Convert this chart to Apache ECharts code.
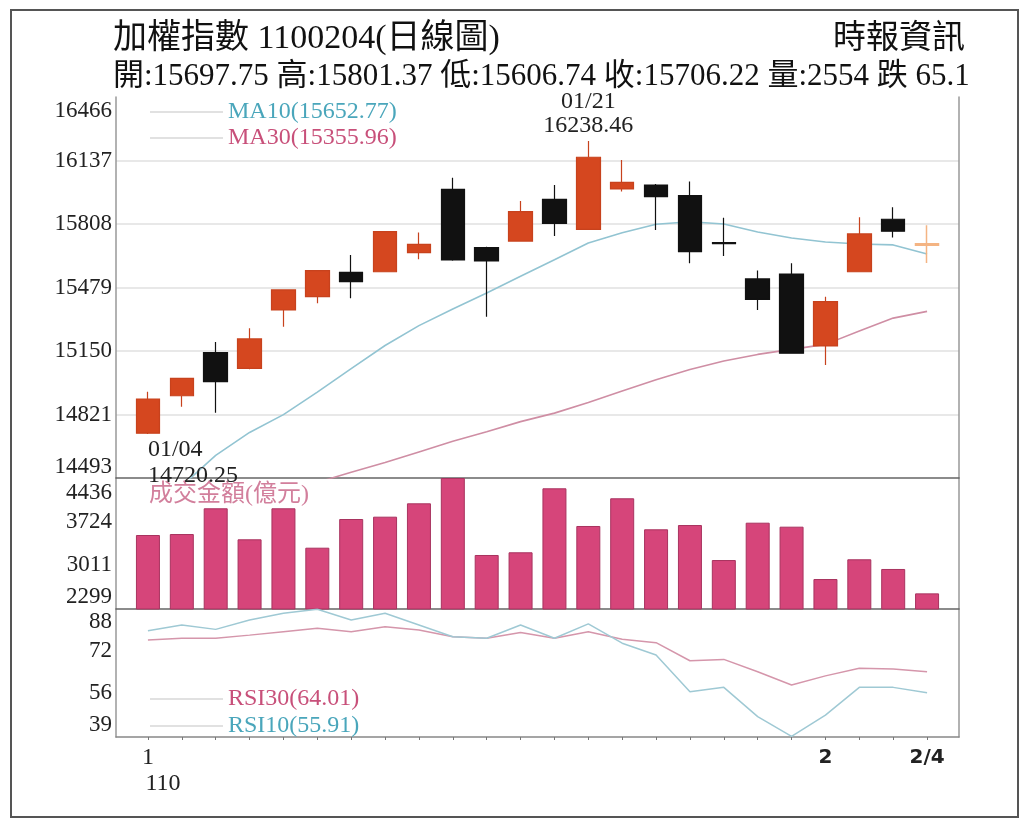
<!DOCTYPE html>
<html><head><meta charset="utf-8">
<script src="https://cdn.jsdelivr.net/npm/echarts@6/dist/echarts.min.js"></script>
<style>html,body{margin:0;padding:0;background:#fff}#c{width:1024px;height:826px}</style>
</head><body><div id="c"></div>
<script>
const dates = ['01/04','01/05','01/06','01/07','01/08','01/11','01/12','01/13','01/14','01/15','01/18','01/19','01/20','01/21','01/22','01/25','01/26','01/27','01/28','01/29','02/01','02/02','02/03','02/04'];
const opens  = [14725,14919,15142,15061,15363,15432,15558,15561,15660,15988,15686,15720,15936,15781,15990,16010,15955,15712,15524,15549,15177,15561,15833,15697.75];
const closes = [14902,15009,14992,15213,15467,15567,15510,15769,15703,15622,15617,15872,15812,16154,16024,15950,15665,15706,15418,15139,15406,15757,15771.32,15706.22];
const lows   = [14720.25,14862,14831,15056,15276,15398,15424,15558,15626,15618,15328,15716,15746,15778,15976,15777,15605,15643,15363,15136,15078,15558,15739,15606.74];
const highs  = [14940,15012,15197,15268,15470,15570,15648,15772,15764,16048,15690,15927,16010,16238.46,16140,16015,16028,15841,15567,15605,15432,15843,15895,15801.37];
const ma10 = [14330,14452,14610,14729,14821,14938,15059,15179,15282,15368,15451,15538,15623,15710,15763,15807,15820,15808,15767,15736,15715,15705,15700,15652.77];
const ma30 = [14208,14260,14312,14364,14415,14470,14523,14573,14628,14683,14733,14785,14829,14884,14944,15002,15055,15099,15133,15159,15185,15254,15321,15355.96];
const volumes = [3506,3522,3942,3436,3942,3299,3767,3805,4023,4436,3180,3224,4268,3653,4105,3599,3669,3098,3707,3642,2788,3110,2952,2554];
const rsi10 = [79.7,81.9,80.2,83.8,86.4,87.9,83.8,86.4,81.9,77.4,76.8,81.9,76.8,82.3,74.9,70.4,56.3,58.0,46.8,39.2,47.4,58.0,58.0,55.91];
const rsi30 = [76.1,76.8,76.8,78.0,79.3,80.6,79.3,81.2,80.0,77.4,76.8,79.0,76.8,79.3,76.4,75.1,68.2,68.7,64.0,58.9,62.4,65.3,65.0,64.01];
const priceTicks = [14493,14821,15150,15479,15808,16137,16466];
const volTicks = [2299,3011,3724,4436];
const rsiTicks = [39,56,72,88];
const xLabels = ['1','','','','','','','','','','','','','','','','','','','','2','','','2/4'];
const yearLabel = '110';
const titleText = '加權指數 1100204(日線圖)';
const sourceText = '時報資訊';
const volName = '成交金額(億元)';

const SERIF = '"Liberation Serif","Noto Sans CJK TC",serif';
const n = dates.length, last = n - 1;
const fmt2 = v => v.toFixed(2);
const chg = closes[last - 1] - closes[last];
const infoText = `開:${fmt2(opens[last])} 高:${fmt2(highs[last])} 低:${fmt2(lows[last])} 收:${fmt2(closes[last])} 量:${volumes[last]} ${chg >= 0 ? '跌' : '漲'} ${Math.abs(chg).toFixed(1)}`;
const ma10Name = `MA10(${fmt2(ma10[last])})`;
const ma30Name = `MA30(${fmt2(ma30[last])})`;
const rsi10Name = `RSI10(${fmt2(rsi10[last])})`;
const rsi30Name = `RSI30(${fmt2(rsi30[last])})`;

const hiIdx = highs.indexOf(Math.max(...highs));
const loIdx = lows.indexOf(Math.min(...lows));

const candleData = dates.map((d, i) => {
  const item = { value: [opens[i], closes[i], lows[i], highs[i]] };
  if (i === last) item.itemStyle = { color: '#f4b483', borderColor: '#f4b483', color0: '#f4b483', borderColor0: '#f4b483', borderWidth: 1.5 };
  return item;
});

function yLabel(ticks, padTop, padBot) {
  const f = { fontFamily: SERIF, fontSize: 23, color: '#222' };
  return {
    customValues: ticks, margin: 4, color: '#222',
    formatter: v => v === ticks[ticks.length - 1] ? `{t|${v}}` : (v === ticks[0] ? `{b|${v}}` : `{n|${v}}`),
    rich: { t: Object.assign({ padding: [padTop, 0, 0, 0] }, f), b: Object.assign({ padding: [0, 0, padBot, 0] }, f), n: f }
  };
}
const frameTops = [97, 478, 609], frameH = [381, 131, 128];
const grids = [];
for (let i = 0; i < 3; i++) grids.push({ left: 116, right: 65, top: frameTops[i], height: frameH[i] });
for (let i = 0; i < 3; i++) grids.push({ left: 131, right: 80, top: frameTops[i], height: frameH[i] });

const xAxes = [];
const sepColors = ['#666', '#666', '#888'];
for (let i = 0; i < 3; i++) xAxes.push({ type: 'value', gridIndex: i, min: 0, max: 1,
  axisLine: { show: true, onZero: false, lineStyle: { color: sepColors[i], width: 1.5 } },
  axisTick: { show: false }, axisLabel: { show: false }, splitLine: { show: false } });
for (let i = 0; i < 3; i++) xAxes.push({ type: 'category', gridIndex: 3 + i, data: dates, boundaryGap: true,
  axisLine: { show: false }, splitLine: { show: false },
  axisTick: { show: i === 2, interval: 0, alignWithLabel: true, length: 3, lineStyle: { color: '#777' } },
  axisLabel: i === 2 ? {
    show: true, interval: 0, margin: 8,
    formatter: (v, idx) => idx === 0 ? `{s|${xLabels[0]}}\n{y|${yearLabel}}` : (xLabels[idx] ? `{b|${xLabels[idx]}}` : ''),
    rich: {
      s: { fontFamily: SERIF, fontSize: 24, lineHeight: 26, color: '#222' },
      y: { fontFamily: SERIF, fontSize: 24, lineHeight: 26, color: '#222', padding: [0, 0, 0, 30] },
      b: { fontFamily: '"DejaVu Sans",sans-serif', fontWeight: 'bold', fontSize: 20, lineHeight: 26, color: '#222' }
    }
  } : { show: false } });

const leftY = (gi, ticks, pt, pb, split) => ({
  type: 'value', gridIndex: gi, min: ticks[0], max: ticks[ticks.length - 1], position: 'left',
  axisLine: { show: true, onZero: false, lineStyle: { color: '#999', width: 1.5 } },
  axisTick: { show: false, customValues: split ? ticks.slice(1, -1) : ticks },
  axisLabel: yLabel(ticks, pt, pb),
  splitLine: { show: !!split, lineStyle: { color: '#e0e0e0', width: 1.5 } }
});
const rightY = gi => ({ type: 'value', gridIndex: gi, position: 'right',
  axisLine: { show: true, onZero: false, lineStyle: { color: '#999', width: 1.5 } },
  axisTick: { show: false }, axisLabel: { show: false }, splitLine: { show: false } });
const dataY = (gi, ticks) => ({ type: 'value', gridIndex: gi, min: ticks[0], max: ticks[ticks.length - 1], show: false, splitLine: { show: false } });

const yAxes = [
  leftY(0, priceTicks, 28, 22, true), rightY(0),
  leftY(1, volTicks, 30, 24, false), rightY(1),
  leftY(2, rsiTicks, 26, 24, false), rightY(2),
  dataY(3, priceTicks), dataY(4, volTicks), dataY(5, rsiTicks)
];

const legendText = { fontFamily: SERIF, fontSize: 24, lineHeight: 24 };
const option = {
  backgroundColor: '#fff',
  animation: false,
  title: [
    { text: titleText, left: 113, top: 22, padding: 0, textStyle: { fontFamily: SERIF, fontSize: 34, fontWeight: 'normal', color: '#111', lineHeight: 34 } },
    { text: infoText, left: 113, top: 61, padding: 0, textStyle: { fontFamily: SERIF, fontSize: 31, fontWeight: 'normal', color: '#111', lineHeight: 31 } },
    { text: sourceText, right: 59, top: 23, padding: 0, textStyle: { fontFamily: SERIF, fontSize: 33, fontWeight: 'normal', color: '#111', lineHeight: 33 } }
  ],
  legend: [
    { orient: 'vertical', left: 150, top: 100, padding: 0, itemGap: 2, itemWidth: 73, itemHeight: 1, icon: 'rect', selectedMode: false,
      itemStyle: { color: '#c4c4c4', borderWidth: 0 }, textStyle: legendText,
      data: [{ name: ma10Name, textStyle: { color: '#4aa6bb' } }, { name: ma30Name, textStyle: { color: '#c8507a' } }] },
    { orient: 'vertical', left: 143, top: 483, padding: 0, itemWidth: 0, itemHeight: 0, icon: 'rect', selectedMode: false,
      textStyle: legendText, data: [{ name: volName, textStyle: { color: '#d27f9c' } }] },
    { orient: 'vertical', left: 150, top: 687, padding: 0, itemGap: 3, itemWidth: 73, itemHeight: 1, icon: 'rect', selectedMode: false,
      itemStyle: { color: '#c4c4c4', borderWidth: 0 }, textStyle: legendText,
      data: [{ name: rsi30Name, textStyle: { color: '#c8507a' } }, { name: rsi10Name, textStyle: { color: '#4aa6bb' } }] }
  ],
  grid: grids,
  xAxis: xAxes,
  yAxis: yAxes,
  graphic: [
    { type: 'rect', shape: { x: 11, y: 10, width: 1007, height: 807 }, style: { fill: 'none', stroke: '#555', lineWidth: 2 }, silent: true, z: -1 }
  ],
  series: [
    { type: 'line', name: ma30Name, xAxisIndex: 3, yAxisIndex: 6, data: ma30, symbol: 'none', clip: true,
      lineStyle: { color: '#cf8ea4', width: 1.6 }, itemStyle: { color: '#cf8ea4' }, z: 2 },
    { type: 'line', name: ma10Name, xAxisIndex: 3, yAxisIndex: 6, data: ma10, symbol: 'none', clip: true,
      lineStyle: { color: '#92c4d2', width: 1.6 }, itemStyle: { color: '#92c4d2' }, z: 2 },
    { type: 'candlestick', name: 'K', xAxisIndex: 3, yAxisIndex: 6, data: candleData, barWidth: 24, clip: true, z: 3,
      itemStyle: { color: '#d5471f', color0: '#111111', borderColor: '#c7421d', borderColor0: '#111111', borderWidth: 1.2 },
      markPoint: {
        symbol: 'circle', symbolSize: 1, itemStyle: { color: 'rgba(0,0,0,0)' }, silent: true,
        data: [
          { coord: [dates[hiIdx], highs[hiIdx]], label: { show: true, position: 'top', distance: 3, formatter: `${dates[hiIdx]}\n${fmt2(highs[hiIdx])}`,
            fontFamily: SERIF, fontSize: 24, lineHeight: 24, color: '#222' } },
          { coord: [dates[loIdx], lows[loIdx]], label: { show: true, position: 'bottom', distance: 2, align: 'left', formatter: `${dates[loIdx]}\n${fmt2(lows[loIdx])}`,
            fontFamily: SERIF, fontSize: 24, lineHeight: 26, color: '#222' } }
        ]
      } },
    { type: 'bar', name: volName, xAxisIndex: 4, yAxisIndex: 7, data: volumes, barWidth: 24, clip: true,
      itemStyle: { color: '#d6457a', borderColor: '#a8335f', borderWidth: 1 } },
    { type: 'line', name: rsi30Name, xAxisIndex: 5, yAxisIndex: 8, data: rsi30, symbol: 'none', clip: true,
      lineStyle: { color: '#d596ab', width: 1.5 }, itemStyle: { color: '#d596ab' } },
    { type: 'line', name: rsi10Name, xAxisIndex: 5, yAxisIndex: 8, data: rsi10, symbol: 'none', clip: true,
      lineStyle: { color: '#9fc9d4', width: 1.5 }, itemStyle: { color: '#9fc9d4' } }
  ]
};
const chart = echarts.init(document.getElementById('c'), null, { renderer: 'canvas' });
chart.setOption(option);
</script>
</body></html>
